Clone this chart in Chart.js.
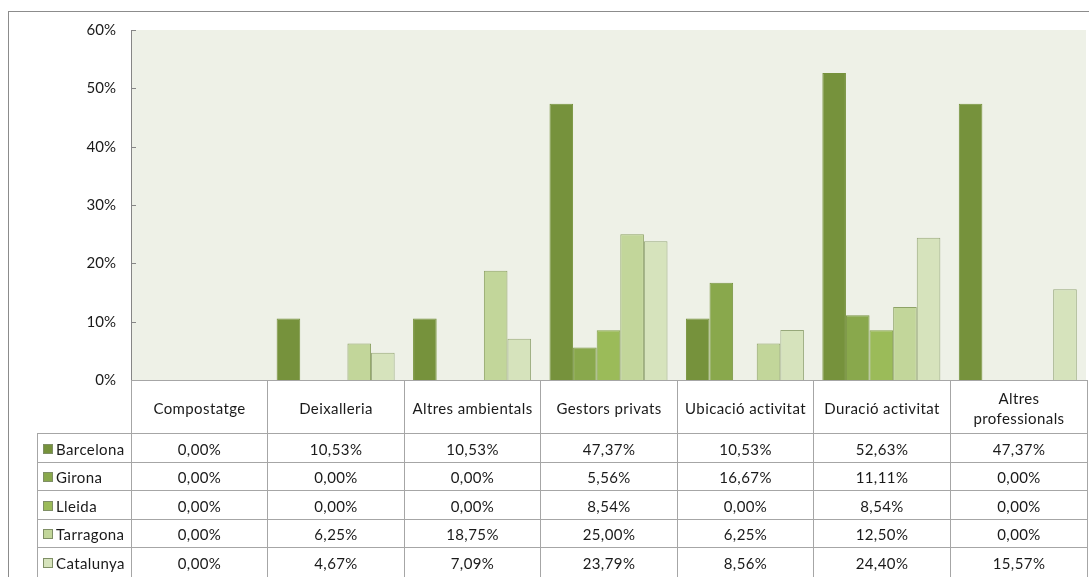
<!DOCTYPE html>
<html>
<head>
<meta charset="utf-8">
<script src="https://cdn.jsdelivr.net/npm/chart.js@4/dist/chart.umd.min.js"></script>
<style>
  body { margin: 0; background: #fff; font-family: Lato, "Noto Sans", sans-serif; }
  #wrap { position: relative; width: 1089px; height: 577px; overflow: hidden; }
  #frame { position: absolute; left: 8px; top: 11px; width: 1200px; height: 700px; border: 1px solid #8c8c8c; }
  #grafic { position: absolute; left: 0; top: 0; }
  #taula { position: absolute; left: 0; top: 0; width: 1089px; height: 577px; pointer-events: none; }
  .cel { position: absolute; box-sizing: border-box; display: flex; align-items: center; justify-content: center;
         text-align: center; font-size: 15px; letter-spacing: 0.4px; color: #1a1a1a; line-height: 20px; }
  .vora { border-left: 1px solid #a6a6a6; border-top: 1px solid #a6a6a6; }
  .dreta { border-right: 1px solid #a6a6a6; }
  .llegenda { justify-content: flex-start; padding-left: 5px; }
  .quadre { width: 8px; height: 8px; border: 1px solid #7f8f66; margin-right: 3px; flex: none; }
</style>
</head>
<body>
<div id="wrap">
  <div id="frame"></div>
  <canvas id="grafic" width="1089" height="404"></canvas>
  <div id="taula"></div>
</div>
<script>
// Percentatges per tipus de gestió i territori
const categories = ['Compostatge', 'Deixalleria', 'Altres ambientals', 'Gestors privats',
                    'Ubicació activitat', 'Duració activitat', 'Altres professionals'];
const territoris = ['Barcelona', 'Girona', 'Lleida', 'Tarragona', 'Catalunya'];
const barcelona = [0, 10.53, 10.53, 47.37, 10.53, 52.63, 47.37];
const girona    = [0, 0, 0, 5.56, 16.67, 11.11, 0];
const lleida    = [0, 0, 0, 8.54, 0, 8.54, 0];
const tarragona = [0, 6.25, 18.75, 25.00, 6.25, 12.50, 0];
const catalunya = [0, 4.67, 7.09, 23.79, 8.56, 24.40, 15.57];
const yTicks = [0, 10, 20, 30, 40, 50, 60];

const colors  = ['#76923c', '#89a84c', '#9bbb59', '#c2d69a', '#d6e3bc'];
const borders = ['#76923c', '#7a9645', '#83a04a', '#8ea366', '#97a87a'];
const series  = [barcelona, girona, lleida, tarragona, catalunya];

// fons de l'àrea, eix horitzontal i marques de l'eix vertical cap a dins
const areaPlugin = {
  id: 'area',
  beforeDraw(chart) {
    const a = chart.chartArea, ctx = chart.ctx;
    ctx.save();
    ctx.fillStyle = '#eef1e7';
    ctx.fillRect(a.left, a.top, a.right - a.left, a.bottom - a.top);
    ctx.restore();
  },
  afterDraw(chart) {
    const a = chart.chartArea, y = chart.scales.y, ctx = chart.ctx;
    ctx.save();
    ctx.strokeStyle = '#868686';
    ctx.lineWidth = 1;
    ctx.beginPath();
    const by = Math.round(a.bottom) + 0.5;
    ctx.moveTo(a.left, by);
    ctx.lineTo(a.right, by);
    y.ticks.forEach(t => {
      const py = Math.round(y.getPixelForValue(t.value)) + 0.5;
      ctx.moveTo(y.right, py);
      ctx.lineTo(y.right + 5, py);
    });
    ctx.stroke();
    ctx.restore();
  }
};

const chart = new Chart(document.getElementById('grafic'), {
  type: 'bar',
  data: {
    labels: categories,
    datasets: territoris.map((nom, i) => ({
      label: nom,
      data: series[i].map(v => v || null),
      backgroundColor: colors[i],
      borderColor: borders[i],
      borderWidth: 1,
      barPercentage: 1,
      categoryPercentage: 0.865
    }))
  },
  options: {
    responsive: false,
    animation: false,
    layout: { padding: { top: 30, right: 3, bottom: 11, left: 0 } },
    plugins: { legend: { display: false }, tooltip: { enabled: false } },
    scales: {
      x: { display: false },
      y: {
        min: 0,
        max: 60,
        afterBuildTicks: s => { s.ticks = yTicks.map(v => ({ value: v })); },
        afterFit: s => { s.width = 131; },
        grid: { display: false, drawTicks: false },
        border: { display: true, color: '#868686' },
        ticks: {
          padding: 15,
          color: '#1a1a1a',
          font: { family: 'Lato', size: 15 },
          callback: v => v + '%'
        }
      }
    }
  },
  plugins: [areaPlugin]
});

// taula de dades sota el gràfic, alineada amb les categories de l'eix
const taula = document.getElementById('taula');
const xs = chart.scales.x;
const amp = (xs.right - xs.left) / categories.length;
const vores = categories.map((c, i) => Math.round(xs.left + i * amp));
vores.push(Math.round(xs.right) + 1);
const legEsq = 37;
const capTop = Math.round(chart.chartArea.bottom), capAlt = 53, filaAlt = 28.6;

function cel(x0, x1, y0, y1, html, cls) {
  const d = document.createElement('div');
  d.className = 'cel ' + cls;
  d.style.left = x0 + 'px';
  d.style.top = Math.round(y0) + 'px';
  d.style.width = (x1 - x0 + (cls.includes('dreta') ? 1 : 0)) + 'px';
  d.style.height = (Math.round(y1) - Math.round(y0) + 1) + 'px';
  d.innerHTML = html;
  taula.appendChild(d);
}

categories.forEach((c, i) => {
  const ult = i === categories.length - 1;
  const text = ult ? 'Altres<br>professionals' : c;
  cel(vores[i], vores[i + 1], capTop, capTop + capAlt, text, 'vora' + (ult ? ' dreta' : ''));
});

territoris.forEach((nom, r) => {
  const y0 = capTop + capAlt + r * filaAlt, y1 = y0 + filaAlt;
  cel(legEsq, vores[0], y0, y1,
      '<span class="quadre" style="background:' + colors[r] + '"></span>' + nom, 'vora llegenda');
  categories.forEach((c, i) => {
    const v = series[r][i].toFixed(2).replace('.', ',') + '%';
    const ult = i === categories.length - 1;
    cel(vores[i], vores[i + 1], y0, y1, v, 'vora' + (ult ? ' dreta' : ''));
  });
});
</script>
</body>
</html>
